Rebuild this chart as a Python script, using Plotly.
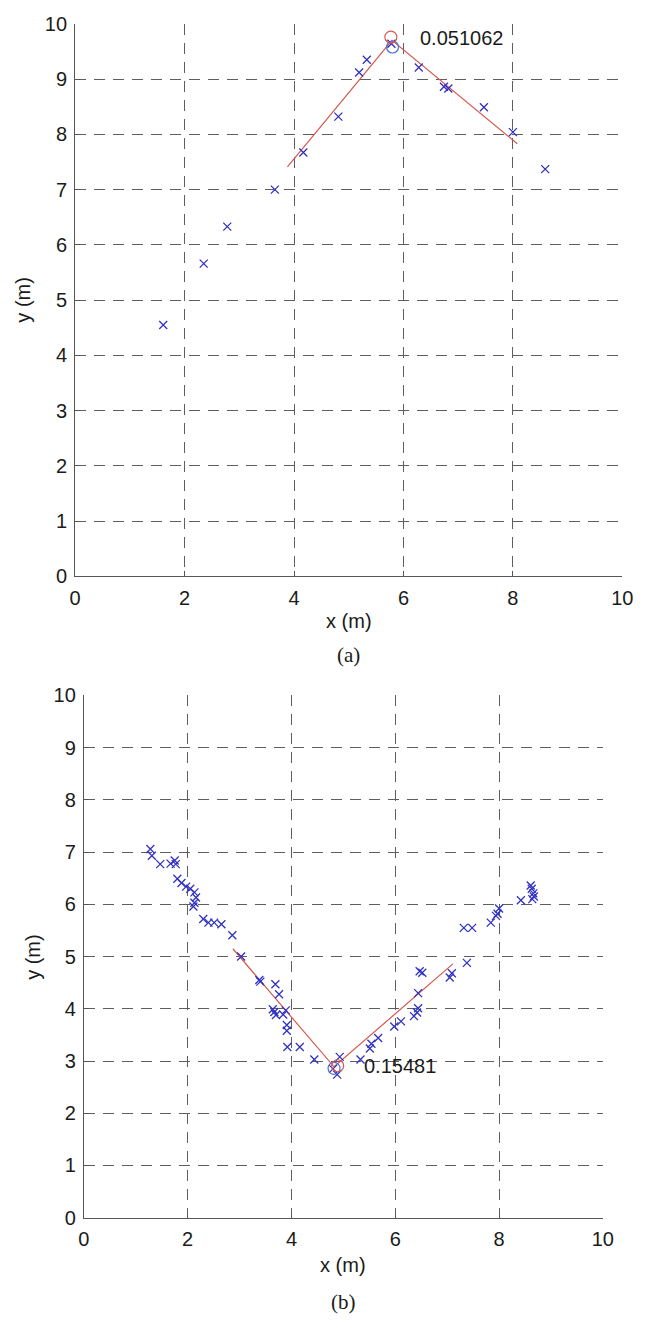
import plotly.graph_objects as go

W, H = 646, 1329

# ---- panel (a): scan points, corner fit ----
a_x = [1.61, 2.35, 2.78, 3.65, 4.17, 4.81, 5.19, 5.33, 5.78, 6.28, 6.74, 6.82, 7.47, 8.00, 8.59]
a_y = [4.55, 5.66, 6.33, 7.00, 7.67, 8.32, 9.12, 9.35, 9.64, 9.21, 8.86, 8.83, 8.49, 8.04, 7.37]
a_fit_x = [3.88, 5.79, 8.08]
a_fit_y = [7.41, 9.70, 7.83]
a_true_corner = (5.80, 9.58)
a_est_corner = (5.77, 9.76)
a_error = "0.051062"
a_label_pos = (6.27, 9.75)

# ---- panel (b): scan points, corner fit ----
b_x = [1.28, 1.31, 1.47, 1.67, 1.75, 1.77, 1.80, 1.88, 1.97, 2.05, 2.13, 2.16, 2.13, 2.11,
       2.30, 2.40, 2.51, 2.65, 2.86, 3.03,
       3.38, 3.40, 3.69, 3.76, 3.64, 3.67, 3.70, 3.84, 3.89, 3.91, 3.91, 3.92, 4.16, 4.44,
       4.80, 4.88, 4.93, 5.33, 5.51, 5.54, 5.67, 5.98, 6.11, 6.36, 6.42, 6.44, 6.44, 6.47,
       6.52, 7.05, 7.09, 7.38,
       7.32, 7.48, 7.84, 7.94, 7.97, 8.00, 8.42, 8.61, 8.63, 8.66, 8.67, 8.64]
b_y = [7.06, 6.93, 6.77, 6.78, 6.84, 6.77, 6.49, 6.41, 6.34, 6.30, 6.23, 6.13, 6.03, 5.96,
       5.72, 5.65, 5.65, 5.62, 5.41, 5.00,
       4.55, 4.52, 4.47, 4.28, 3.99, 3.94, 3.88, 3.89, 3.97, 3.69, 3.58, 3.27, 3.27, 3.03,
       2.85, 2.74, 3.08, 3.03, 3.24, 3.33, 3.44, 3.66, 3.76, 3.86, 3.93, 4.01, 4.30, 4.72,
       4.69, 4.60, 4.68, 4.88,
       5.55, 5.55, 5.65, 5.78, 5.82, 5.92, 6.08, 6.36, 6.30, 6.21, 6.15, 6.10]
b_fit_x = [2.87, 4.82, 7.11]
b_fit_y = [5.15, 2.89, 4.86]
b_true_corner = (4.82, 2.86)
b_est_corner = (4.89, 2.91)
b_error = "0.15481"
b_label_pos = (5.35, 2.91)

ticks = [0, 2, 4, 6, 8, 10]
yticks = list(range(0, 11))

BLUE = "#3232c2"
RED = "#d8574e"
CIRC_BLUE = "#4d6ed8"
GRID = "#5e5e5e"
AXIS = "#555555"
TXT = "#1b1b1b"
SANS = "Liberation Sans, Arial, sans-serif"
SERIF = "Liberation Serif, Times New Roman, serif"


def px_x(p):
    return p / W


def px_y(p):
    return 1 - p / H


# plot-area boxes in page pixels: (left, right, top, bottom)
box_a = (71, 633, 13, 575)
box_b = (80, 613, 696, 1227)

fig = go.Figure()


def add_panel(xs, ys, fx, fy, true_c, est_c, xa, ya):
    fig.add_trace(go.Scatter(x=fx, y=fy, mode="lines", xaxis=xa, yaxis=ya,
                             line=dict(color=RED, width=1.2), showlegend=False))
    fig.add_trace(go.Scatter(x=xs, y=ys, mode="markers", xaxis=xa, yaxis=ya,
                             marker=dict(symbol="x-thin", size=8, color=BLUE,
                                         line=dict(color=BLUE, width=1.3)),
                             showlegend=False))
    fig.add_trace(go.Scatter(x=[true_c[0]], y=[true_c[1]], mode="markers", xaxis=xa, yaxis=ya,
                             marker=dict(symbol="circle-open", size=12, color=CIRC_BLUE,
                                         line=dict(color=CIRC_BLUE, width=1.2)),
                             showlegend=False))
    fig.add_trace(go.Scatter(x=[est_c[0]], y=[est_c[1]], mode="markers", xaxis=xa, yaxis=ya,
                             marker=dict(symbol="circle-open", size=12, color=RED,
                                         line=dict(color=RED, width=1.2)),
                             showlegend=False))


add_panel(a_x, a_y, a_fit_x, a_fit_y, a_true_corner, a_est_corner, "x", "y")
add_panel(b_x, b_y, b_fit_x, b_fit_y, b_true_corner, b_est_corner, "x2", "y2")

axis_common = dict(
    range=[0, 10], showline=True, linecolor=AXIS, linewidth=1.2, mirror=False,
    showgrid=True, gridcolor=GRID, gridwidth=1.3, griddash="11px,8px",
    zeroline=False, ticks="inside", ticklen=5, tickcolor=AXIS, tickwidth=1,
    tickfont=dict(family=SANS, size=20, color=TXT), fixedrange=True,
)

fig.update_layout(
    width=W, height=H, margin=dict(l=0, r=0, t=0, b=0),
    paper_bgcolor="white", plot_bgcolor="white",
    xaxis=dict(axis_common, domain=[px_x(box_a[0]), px_x(box_a[1])], anchor="y",
               tickvals=ticks, ticklabelstandoff=3),
    yaxis=dict(axis_common, domain=[px_y(box_a[3]), px_y(box_a[2])], anchor="x",
               tickvals=yticks, ticklabelstandoff=3),
    xaxis2=dict(axis_common, domain=[px_x(box_b[0]), px_x(box_b[1])], anchor="y2",
                tickvals=ticks, ticklabelstandoff=3),
    yaxis2=dict(axis_common, domain=[px_y(box_b[3]), px_y(box_b[2])], anchor="x2",
                tickvals=yticks, ticklabelstandoff=3),
)

annots = []
# error values next to the estimated corners
annots.append(dict(x=a_label_pos[0], y=a_label_pos[1], xref="x", yref="y", text=a_error,
                   showarrow=False, xanchor="left", yanchor="middle",
                   font=dict(family=SANS, size=20, color=TXT)))
annots.append(dict(x=b_label_pos[0], y=b_label_pos[1], xref="x2", yref="y2", text=b_error,
                   showarrow=False, xanchor="left", yanchor="middle",
                   font=dict(family=SANS, size=20, color=TXT)))

# axis titles and panel captions
for box, xlab_y, cap_y, cap in [(box_a, 620, 655, "(a)"), (box_b, 1275, 1313, "(b)")]:
    cx = (box[0] + box[1]) / 2
    cy = (box[2] + box[3]) / 2
    annots.append(dict(x=px_x(cx), y=px_y(xlab_y), xref="paper", yref="paper", text="x (m)",
                       showarrow=False, xanchor="center", yanchor="middle",
                       font=dict(family=SANS, size=20, color=TXT)))
    annots.append(dict(x=px_x(box[0] - 53), y=px_y(cy), xref="paper", yref="paper", text="y (m)",
                       showarrow=False, xanchor="center", yanchor="middle", textangle=-90,
                       font=dict(family=SANS, size=20, color=TXT)))
    annots.append(dict(x=px_x(cx), y=px_y(cap_y), xref="paper", yref="paper", text=cap,
                       showarrow=False, xanchor="center", yanchor="middle",
                       font=dict(family=SERIF, size=21, color=TXT)))

fig.update_layout(annotations=annots)

fig.write_html("out.html")
